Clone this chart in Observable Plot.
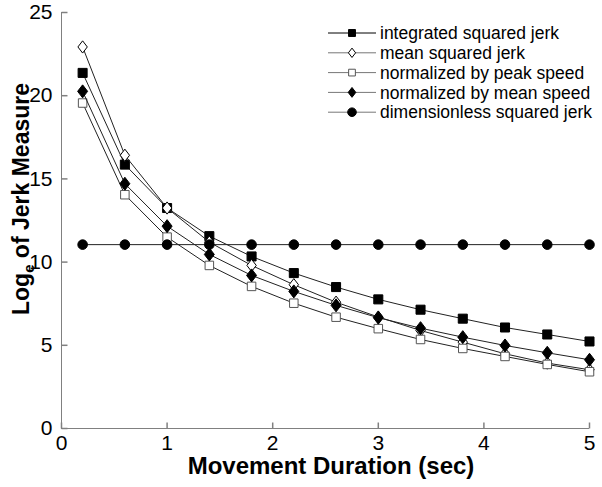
<!DOCTYPE html>
<html>
<head>
<meta charset="utf-8">
<script src="https://cdn.jsdelivr.net/npm/d3@7"></script>
<script src="https://cdn.jsdelivr.net/npm/@observablehq/plot@0.6"></script>
<style>
  html, body { margin: 0; padding: 0; background: #fff; }
  #chart { width: 602px; height: 487px; position: relative; }
</style>
</head>
<body>
<div id="chart"></div>
<script>
// ---- data ----
const durations = [0.2, 0.6, 1.0, 1.4, 1.8, 2.2, 2.6, 3.0, 3.4, 3.8, 4.2, 4.6, 5.0];
const integratedSquaredJerk = [21.37, 15.86, 13.25, 11.56, 10.34, 9.34, 8.50, 7.76, 7.14, 6.60, 6.07, 5.65, 5.23];
const meanSquaredJerk       = [22.93, 16.42, 13.25, 11.20, 9.80, 8.64, 7.59, 6.70, 5.89, 5.19, 4.49, 3.93, 3.53];
const normalizedByPeakSpeed = [19.56, 14.05, 11.50, 9.80, 8.54, 7.53, 6.69, 6.00, 5.35, 4.81, 4.33, 3.85, 3.41];
const normalizedByMeanSpeed = [20.26, 14.71, 12.16, 10.46, 9.20, 8.24, 7.40, 6.66, 6.03, 5.49, 4.99, 4.55, 4.13];
const dimensionlessSquaredJerk = [11.05, 11.05, 11.05, 11.05, 11.05, 11.05, 11.05, 11.05, 11.05, 11.05, 11.05, 11.05, 11.05];
const seriesNames = ["integrated squared jerk", "mean squared jerk", "normalized by peak speed", "normalized by mean speed", "dimensionless squared jerk"];
const xTicks = [0, 1, 2, 3, 4, 5];
const yTicks = [0, 5, 10, 15, 20, 25];
const xLabel = "Movement Duration (sec)";
const yLabelMain = "Log", yLabelSub = "e", yLabelRest = " of Jerk Measure";

// ---- symbols ----
const diamondM = {draw(ctx, size) { const r = Math.sqrt(size / Math.PI); const w = r, h = r * 1.3;
  ctx.moveTo(0, -h); ctx.lineTo(w, 0); ctx.lineTo(0, h); ctx.lineTo(-w, 0); ctx.closePath(); }};
const tickUp = {draw(ctx) { ctx.moveTo(0, 0); ctx.lineTo(0, -6); }};
const tickRight = {draw(ctx) { ctx.moveTo(0, 0); ctx.lineTo(6, 0); }};

const styles = [
  {symbol: "square", fill: "#000", stroke: "#000", r: 5.1, lr: 3.9, line: "#000"},
  {symbol: diamondM, fill: "#fff", stroke: "#000", r: 4.7, lr: 3.6, line: "#777"},
  {symbol: "square", fill: "#fff", stroke: "#555", r: 4.8, lr: 3.8, line: "#777"},
  {symbol: diamondM, fill: "#000", stroke: "#000", r: 5.0, lr: 3.8, line: "#777"},
  {symbol: "circle", fill: "#000", stroke: "#000", r: 4.8, lr: 4.3, line: "#777"}
];
const allValues = [integratedSquaredJerk, meanSquaredJerk, normalizedByPeakSpeed, normalizedByMeanSpeed, dimensionlessSquaredJerk];
const tables = allValues.map((vals, i) => durations.map((x, j) => ({x, y: vals[j], series: seriesNames[i]})));

const marks = [
  Plot.ruleY([0], {stroke: "#808080"}),
  Plot.ruleX([0], {stroke: "#808080"}),
  Plot.dot(xTicks, {x: d => d, y: 0, symbol: tickUp, stroke: "#808080", fill: "none"}),
  Plot.dot(yTicks, {x: 0, y: d => d, symbol: tickRight, stroke: "#808080", fill: "none"}),
  Plot.axisX({ticks: xTicks, tickFormat: d => String(d), tickSize: 0, tickPadding: 7, label: null, fontSize: 21}),
  Plot.axisY({ticks: yTicks, tickFormat: d => String(d), tickSize: 0, tickPadding: 9, label: null, fontSize: 21})
];
tables.forEach((t, i) => {
  const s = styles[i];
  marks.push(Plot.line(t, {x: "x", y: "y", stroke: "#222", strokeWidth: 1}));
  marks.push(Plot.dot(t, {x: "x", y: "y", symbol: s.symbol, r: s.r, fill: s.fill, stroke: s.stroke, strokeWidth: 1}));
});

const chart = Plot.plot({
  width: 602, height: 487,
  marginLeft: 61, marginRight: 13, marginTop: 12, marginBottom: 59,
  x: {domain: [0, 5]},
  y: {domain: [0, 25]},
  style: {fontFamily: "'Liberation Sans', Arial, Helvetica, sans-serif", fontSize: "21px", color: "#000", background: "#fff"},
  marks
});
document.getElementById("chart").appendChild(chart);

// ---- axis titles ----
const svg = d3.select(chart);
svg.append("text")
  .attr("x", 331).attr("y", 474)
  .attr("text-anchor", "middle")
  .attr("font-family", "'Liberation Sans', Arial, sans-serif")
  .attr("font-weight", "bold").attr("font-size", 24)
  .attr("fill", "#000")
  .text(xLabel);
const yt = svg.append("text")
  .attr("transform", "translate(29,199) rotate(-90)")
  .attr("text-anchor", "middle")
  .attr("font-family", "'Liberation Sans', Arial, sans-serif")
  .attr("font-weight", "bold").attr("font-size", 23)
  .attr("fill", "#000");
yt.append("tspan").text(yLabelMain);
yt.append("tspan").attr("font-size", 15).attr("dy", 5).text(yLabelSub);
yt.append("tspan").attr("dy", -5).text(yLabelRest);

// ---- legend ----
const lg = svg.append("g").attr("transform", "translate(328,33)");
seriesNames.forEach((name, i) => {
  const s = styles[i];
  const row = lg.append("g").attr("transform", `translate(0,${i * 19.8})`);
  row.append("line").attr("x1", 0).attr("x2", 48).attr("y1", 0).attr("y2", 0)
    .attr("stroke", s.line).attr("stroke-width", 1);
  const sym = typeof s.symbol === "string" ? (s.symbol === "square" ? d3.symbolSquare : d3.symbolCircle) : s.symbol;
  row.append("path").attr("transform", "translate(24,0)")
    .attr("d", d3.symbol(sym, Math.PI * s.lr * s.lr)())
    .attr("fill", s.fill).attr("stroke", s.stroke).attr("stroke-width", 1);
  row.append("text").attr("x", 52).attr("y", 0).attr("dy", "0.35em")
    .attr("text-anchor", "start")
    .attr("font-family", "'Liberation Sans', Arial, sans-serif")
    .attr("font-size", 17.5).attr("fill", "#000")
    .text(name);
});
</script>
</body>
</html>
